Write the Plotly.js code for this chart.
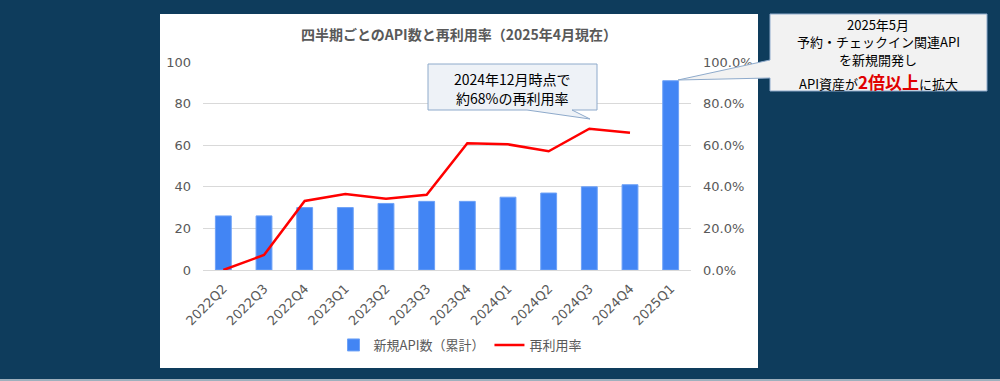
<!DOCTYPE html>
<html>
<head>
<meta charset="utf-8">
<script src="https://cdn.plot.ly/plotly-3.0.1.min.js"></script>
<style>html,body{margin:0;padding:0;background:#0e3c5c;}#chart{width:1000px;height:381px;}</style>
</head>
<body>
<div id="chart"></div>
<script>
const categories = ['2022Q2','2022Q3','2022Q4','2023Q1','2023Q2','2023Q3','2023Q4','2024Q1','2024Q2','2024Q3','2024Q4','2025Q1'];
const apiCounts = [26,26,30,30,32,33,33,35,37,40,41,91];
const reuseCategories = ['2022Q2','2022Q3','2022Q4','2023Q1','2023Q2','2023Q3','2023Q4','2024Q1','2024Q2','2024Q3','2024Q4'];
const reuseRate = [0.0,0.072,0.332,0.365,0.343,0.362,0.609,0.604,0.571,0.679,0.660];
const yTicks = [0,20,40,60,80,100];
const y2Ticks = [0,0.2,0.4,0.6,0.8,1.0];

const FONT = '"Noto Sans CJK JP", "Noto Sans", sans-serif';
const NUMFONT = '"DejaVu Sans", Verdana, sans-serif';
const L=203, R=691, T=62, B=270;
function px(x){return (x-L)/(R-L);}
function py(y){return (B-y)/(B-T);}
function pathOf(pts){return pts.map((p,i)=>(i?'L':'M')+px(p[0]).toFixed(5)+','+py(p[1]).toFixed(5)).join(' ')+' Z';}

const traces = [
  {type:'bar', x:categories, y:apiCounts, name:'新規API数（累計）',
   marker:{color:'#4285f4', line:{color:'#6ea2f7', width:1}}, yaxis:'y'},
  {type:'scatter', mode:'lines', x:reuseCategories, y:reuseRate, name:'再利用率',
   line:{color:'#ff0000', width:2.5}, yaxis:'y2'}
];

const shapes = [
  {type:'rect', xref:'paper', yref:'paper', layer:'below',
   x0:px(160), x1:px(758), y0:py(368), y1:py(14), fillcolor:'#ffffff', line:{width:0}},
  {type:'rect', xref:'paper', yref:'paper', layer:'below',
   x0:px(0), x1:px(1000), y0:py(381), y1:py(379), fillcolor:'#9fb0bd', line:{width:0}},
  {type:'path', xref:'paper', yref:'paper', layer:'above',
   path:pathOf([[428,64],[597,64],[597,110],[572,110],[590,119],[527,110],[428,110]]),
   fillcolor:'#eef2f7', line:{color:'#8eaacb', width:1}},
  {type:'path', xref:'paper', yref:'paper', layer:'above',
   path:pathOf([[770,14],[987,14],[987,91],[770,91],[770,78],[678,80],[770,60]]),
   fillcolor:'#f2f2f2', line:{color:'#8eaacb', width:1}}
];

function ann(text, x, y, size, color){
  return {text:text, xref:'paper', yref:'paper', x:px(x), y:py(y), xanchor:'center', yanchor:'middle',
          showarrow:false, font:{family:FONT, size:size, color:color||'#000000'}};
}
const annotations = [
  ann('2024年12月時点で', 512, 79, 14),
  ann('約68%の再利用率', 512, 98, 14),
  ann('2025年5月', 878, 24, 13),
  ann('予約・チェックイン関連API', 878, 42, 13),
  ann('を新規開発し', 878, 59, 13),
  ann('API資産が<span style="color:#e00000;font-size:17px"><b>2倍以上</b></span>に拡大', 878, 81, 13)
];

const layout = {
  width:1000, height:381,
  paper_bgcolor:'#0e3c5c', plot_bgcolor:'rgba(0,0,0,0)',
  margin:{l:L, r:1000-R, t:T, b:381-B, pad:0},
  font:{family:FONT, color:'#595959', size:13},
  title:{text:'<b>四半期ごとのAPI数と再利用率（2025年4月現在）</b>', xref:'paper', x:px(459), xanchor:'center',
         yref:'container', y:1-35/381, yanchor:'middle', font:{family:FONT, size:14, color:'#595959'}},
  bargap:0.61,
  xaxis:{type:'category', tickangle:-45, showgrid:false, showline:true, linecolor:'#d9d9d9', linewidth:1,
         tickfont:{family:NUMFONT, size:13, color:'#595959'}, ticks:'', ticklabelstandoff:5, fixedrange:true},
  yaxis:{range:[0,100], tickvals:yTicks, showgrid:true, gridcolor:'#d9d9d9', gridwidth:1, zeroline:false,
         tickfont:{family:NUMFONT, size:13, color:'#595959'}, ticks:'', ticklabelstandoff:11},
  yaxis2:{range:[0,1], tickvals:y2Ticks, tickformat:'.1%', overlaying:'y', side:'right', showgrid:false, zeroline:false,
          tickfont:{family:NUMFONT, size:13, color:'#595959'}, ticks:'', ticklabelstandoff:11},
  showlegend:true,
  legend:{orientation:'h', xref:'paper', x:px(460), xanchor:'center', yref:'paper', y:py(345), yanchor:'middle',
          font:{family:FONT, size:13, color:'#595959'}, bgcolor:'rgba(0,0,0,0)', traceorder:'normal'},
  shapes:shapes,
  annotations:annotations
};

Plotly.newPlot('chart', traces, layout, {displayModeBar:false, staticPlot:true});
</script>
</body>
</html>
